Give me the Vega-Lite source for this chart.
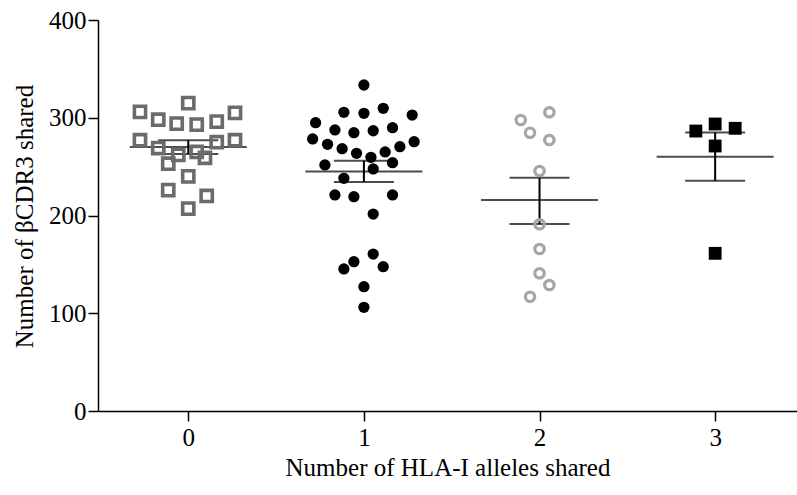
{
  "$schema": "https://vega.github.io/schema/vega-lite/v6.json",
  "width": 699,
  "height": 391,
  "autosize": {"type": "none"},
  "padding": {"left": 98, "top": 20, "right": 0, "bottom": 84},
  "background": "white",
  "config": {
    "view": {"stroke": null},
    "font": "Liberation Serif",
    "axis": {
      "labelFont": "Liberation Serif",
      "titleFont": "Liberation Serif",
      "labelFontSize": 25,
      "titleFontSize": 25,
      "labelColor": "black",
      "titleColor": "black",
      "titleFontWeight": "normal",
      "domainColor": "black",
      "domainWidth": 1.5,
      "tickColor": "black",
      "tickWidth": 1.5,
      "tickSize": 10,
      "grid": false
    }
  },
  "datasets": {
    "points": [
      {"group": 0, "x": -0.275, "y": 306}, {"group": 0, "x": 0.0, "y": 315}, {"group": 0, "x": -0.171, "y": 298},
      {"group": 0, "x": -0.066, "y": 294}, {"group": 0, "x": 0.048, "y": 293}, {"group": 0, "x": 0.162, "y": 296},
      {"group": 0, "x": 0.266, "y": 305}, {"group": 0, "x": -0.275, "y": 277}, {"group": 0, "x": -0.171, "y": 269},
      {"group": 0, "x": -0.057, "y": 262}, {"group": 0, "x": 0.048, "y": 265}, {"group": 0, "x": 0.162, "y": 275},
      {"group": 0, "x": 0.266, "y": 277}, {"group": 0, "x": -0.114, "y": 253}, {"group": 0, "x": 0.095, "y": 259},
      {"group": 0, "x": 0.0, "y": 240}, {"group": 0, "x": -0.114, "y": 226}, {"group": 0, "x": 0.105, "y": 220},
      {"group": 0, "x": 0.0, "y": 207},
      {"group": 1, "x": 1.0, "y": 333.5}, {"group": 1, "x": 0.886, "y": 305.6}, {"group": 1, "x": 1.0, "y": 304.5},
      {"group": 1, "x": 1.11, "y": 309.7}, {"group": 1, "x": 1.275, "y": 302.8}, {"group": 1, "x": 0.725, "y": 294.9},
      {"group": 1, "x": 0.835, "y": 287.5}, {"group": 1, "x": 0.943, "y": 284.7}, {"group": 1, "x": 1.053, "y": 286.7},
      {"group": 1, "x": 1.163, "y": 289.8}, {"group": 1, "x": 0.708, "y": 278.3}, {"group": 1, "x": 0.793, "y": 272.8},
      {"group": 1, "x": 0.876, "y": 268.3}, {"group": 1, "x": 0.958, "y": 263.6}, {"group": 1, "x": 1.04, "y": 259.5},
      {"group": 1, "x": 1.121, "y": 265}, {"group": 1, "x": 1.205, "y": 270.4}, {"group": 1, "x": 1.286, "y": 275.5},
      {"group": 1, "x": 0.778, "y": 251.7}, {"group": 1, "x": 1.053, "y": 247.6}, {"group": 1, "x": 1.163, "y": 254},
      {"group": 1, "x": 0.886, "y": 238}, {"group": 1, "x": 0.835, "y": 221}, {"group": 1, "x": 0.943, "y": 219.2},
      {"group": 1, "x": 1.163, "y": 221}, {"group": 1, "x": 1.053, "y": 201.5}, {"group": 1, "x": 1.053, "y": 160.6},
      {"group": 1, "x": 0.943, "y": 152.7}, {"group": 1, "x": 0.886, "y": 145.3}, {"group": 1, "x": 1.11, "y": 147.6},
      {"group": 1, "x": 1.0, "y": 127.2}, {"group": 1, "x": 1.0, "y": 106.1},
      {"group": 2, "x": 2.056, "y": 305.6}, {"group": 2, "x": 1.893, "y": 297.7}, {"group": 2, "x": 1.946, "y": 284.7},
      {"group": 2, "x": 2.056, "y": 277.2}, {"group": 2, "x": 2.0, "y": 245.5}, {"group": 2, "x": 2.0, "y": 191},
      {"group": 2, "x": 2.0, "y": 165.7}, {"group": 2, "x": 2.0, "y": 140.9}, {"group": 2, "x": 2.056, "y": 128.9},
      {"group": 2, "x": 1.946, "y": 116.9},
      {"group": 3, "x": 2.89, "y": 286.4}, {"group": 3, "x": 3.0, "y": 293.6}, {"group": 3, "x": 3.114, "y": 289.2},
      {"group": 3, "x": 3.0, "y": 271.1}, {"group": 3, "x": 3.0, "y": 161.3}
    ],
    "summary": [
      {"group": 0, "mean": 270, "lo": 263, "hi": 277},
      {"group": 1, "mean": 245, "lo": 234.3, "hi": 256},
      {"group": 2, "mean": 215.9, "lo": 191.3, "hi": 238.7},
      {"group": 3, "mean": 260.2, "lo": 235.6, "hi": 285}
    ]
  },
  "layer": [
    {
      "data": {"name": "summary"},
      "mark": {"type": "tick", "orient": "horizontal", "size": 117, "thickness": 2, "color": "black"},
      "encoding": {
        "x": {
          "field": "group", "type": "quantitative",
          "scale": {"domain": [-0.514, 3.466], "nice": false, "zero": false},
          "axis": {
            "values": [0, 1, 2, 3],
            "format": "d",
            "title": "Number of HLA-I alleles shared",
            "labelPadding": 4,
            "titleY": 64,
            "titleBaseline": "alphabetic"
          }
        },
        "y": {
          "field": "mean", "type": "quantitative",
          "scale": {"domain": [0, 400], "nice": false},
          "axis": {
            "values": [0, 100, 200, 300, 400],
            "title": "Number of βCDR3 shared",
            "labelPadding": 2,
            "titleAngle": -90,
            "titleX": -66,
            "titleY": 196,
            "titleAlign": "center",
            "titleBaseline": "alphabetic"
          }
        }
      }
    },
    {
      "data": {"name": "summary"},
      "mark": {"type": "tick", "orient": "horizontal", "size": 60, "thickness": 2, "color": "black"},
      "encoding": {
        "x": {"field": "group", "type": "quantitative"},
        "y": {"field": "lo", "type": "quantitative"}
      }
    },
    {
      "data": {"name": "summary"},
      "mark": {"type": "tick", "orient": "horizontal", "size": 60, "thickness": 2, "color": "black"},
      "encoding": {
        "x": {"field": "group", "type": "quantitative"},
        "y": {"field": "hi", "type": "quantitative"}
      }
    },
    {
      "data": {"name": "summary"},
      "mark": {"type": "rule", "strokeWidth": 2, "color": "black"},
      "encoding": {
        "x": {"field": "group", "type": "quantitative"},
        "y": {"field": "lo", "type": "quantitative"},
        "y2": {"field": "hi"}
      }
    },
    {
      "data": {"name": "points"},
      "transform": [{"filter": "datum.group == 0"}],
      "mark": {"type": "point", "shape": "square", "filled": false, "stroke": "#6b6b6b", "strokeWidth": 3.6, "size": 125, "opacity": 1},
      "encoding": {
        "x": {"field": "x", "type": "quantitative"},
        "y": {"field": "y", "type": "quantitative"}
      }
    },
    {
      "data": {"name": "points"},
      "transform": [{"filter": "datum.group == 1"}],
      "mark": {"type": "point", "shape": "circle", "filled": true, "fill": "black", "size": 127, "opacity": 1},
      "encoding": {
        "x": {"field": "x", "type": "quantitative"},
        "y": {"field": "y", "type": "quantitative"}
      }
    },
    {
      "data": {"name": "points"},
      "transform": [{"filter": "datum.group == 2"}],
      "mark": {"type": "point", "shape": "circle", "filled": false, "stroke": "#a6a6a6", "strokeWidth": 3.2, "size": 88, "opacity": 1},
      "encoding": {
        "x": {"field": "x", "type": "quantitative"},
        "y": {"field": "y", "type": "quantitative"}
      }
    },
    {
      "data": {"name": "points"},
      "transform": [{"filter": "datum.group == 3"}],
      "mark": {"type": "point", "shape": "square", "filled": true, "fill": "black", "size": 165, "opacity": 1},
      "encoding": {
        "x": {"field": "x", "type": "quantitative"},
        "y": {"field": "y", "type": "quantitative"}
      }
    }
  ]
}
